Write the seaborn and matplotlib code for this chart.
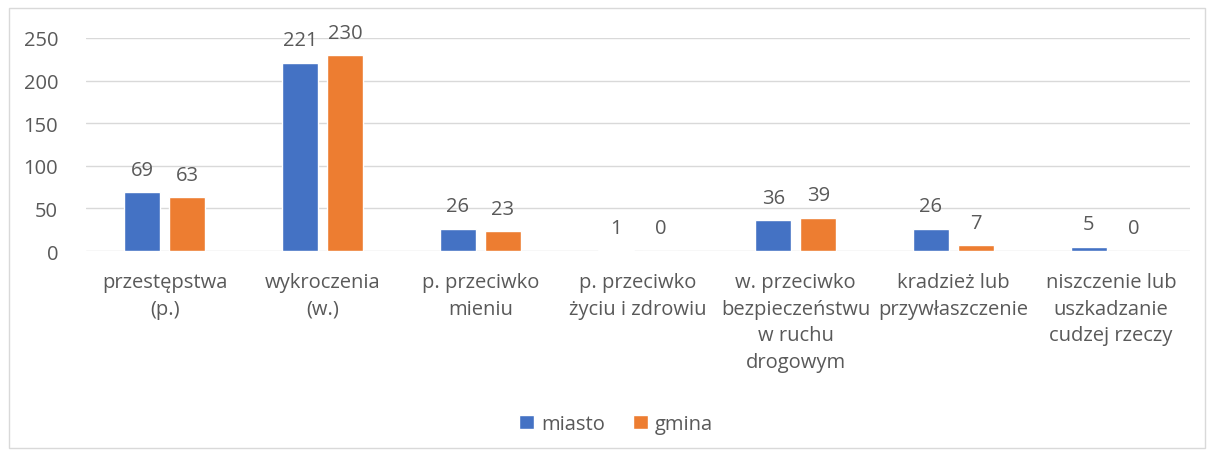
import matplotlib
matplotlib.use("Agg")
import matplotlib.pyplot as plt
import seaborn as sns
import pandas as pd
from matplotlib.patches import Rectangle

categories = ["przestępstwa\n(p.)", "wykroczenia\n(w.)", "p. przeciwko\nmieniu",
              "p. przeciwko\nżyciu i zdrowiu", "w. przeciwko\nbezpieczeństwu\nw ruchu\ndrogowym",
              "kradzież lub\nprzywłaszczenie", "niszczenie lub\nuszkadzanie\ncudzej rzeczy"]
miasto = [69, 221, 26, 1, 36, 26, 5]
gmina = [63, 230, 23, 0, 39, 7, 0]
series = ["miasto", "gmina"]
colors = ["#4472C4", "#ED7D31"]
yticks = [0, 50, 100, 150, 200, 250]

df = pd.DataFrame({
    "cat": categories * 2,
    "val": miasto + gmina,
    "series": [series[0]] * len(categories) + [series[1]] * len(categories),
})

sns.set_theme(style="white")
plt.rcParams['font.family'] = ['Open Sans', 'DejaVu Sans']
text_color = "#595959"
fs = 14.5

fig = plt.figure(figsize=(12.15, 4.56), dpi=100)
ax = fig.add_axes([86/1215, 1-252/456, (1190-86)/1215, (252-39)/456])

sns.barplot(data=df, x="cat", y="val", hue="series", palette=colors, ax=ax,
            width=0.57, gap=0.2, order=categories, hue_order=series, saturation=1)

ax.set_ylim(0, 250)
ax.set_yticks(yticks)
ax.set_xlim(-0.5, len(categories) - 0.5)
ax.yaxis.grid(True, color="#D9D9D9", linewidth=1)
ax.set_axisbelow(True)
for s in ax.spines.values():
    s.set_visible(False)
ax.set_xlabel("")
ax.set_ylabel("")
ax.tick_params(axis="both", length=0, colors=text_color, labelsize=fs)
ax.tick_params(axis="y", pad=20)
ax.tick_params(axis="x", pad=15)
for lbl in ax.get_xticklabels():
    lbl.set_linespacing(1.45)

for cont in ax.containers:
    ax.bar_label(cont, padding=9, fontsize=fs, color=text_color)

leg = ax.legend(loc="center", bbox_to_anchor=(616/1215, 1-425/456), bbox_transform=fig.transFigure,
                ncol=2, frameon=False, fontsize=fs, handlelength=0.75, handleheight=0.75,
                handletextpad=0.35, columnspacing=1.4)
for t in leg.get_texts():
    t.set_color(text_color)

fig.patches.append(Rectangle((9/1215, 1-449/456), (1205-9)/1215, (449-9)/456,
                             transform=fig.transFigure, fill=False, edgecolor="#D9D9D9", linewidth=1))

fig.savefig("out.png", dpi=100)
